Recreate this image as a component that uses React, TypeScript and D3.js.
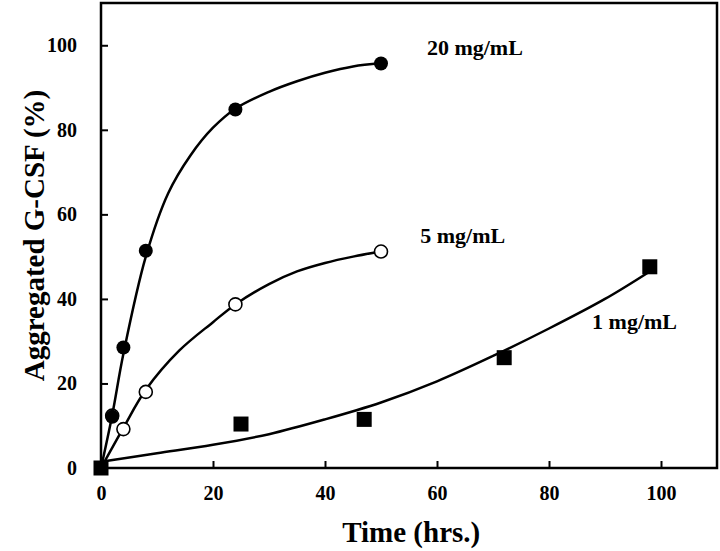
import React, { useEffect, useRef } from 'react';
import * as d3 from 'd3';

// measured points (time in hrs, % aggregated)
const time20 = [0, 2, 4, 8, 24, 50];
const agg20 = [0, 12.1, 28.5, 51.4, 84.8, 95.7];

const time5 = [2, 4, 8, 24, 50];
const agg5 = [12.4, 9.2, 18, 38.7, 51.2];

const time1 = [0, 25, 47, 72, 98];
const agg1 = [0, 10.4, 11.5, 26.1, 47.6];

// fitted curves
const fitTime20 = [0, 2, 4, 8, 12, 16, 20, 24, 30, 35, 40, 45, 50];
const fitAgg20 = [0, 12.5, 27, 50, 65, 74, 80.5, 85, 89, 91.5, 93.5, 95, 95.8];

const fitTime5 = [0, 4, 8, 14, 20, 24, 30, 35, 40, 45, 50];
const fitAgg5 = [0, 9.5, 18.5, 27.8, 34.5, 38.7, 43.5, 46.5, 48.5, 50, 51.2];

const fitTime1 = [0, 10, 20, 30, 40, 50, 60, 70, 80, 90, 98];
const fitAgg1 = [1.5, 3.5, 5.5, 8, 11.5, 15.5, 20.5, 26.5, 33, 40, 46.5];

const xTicks = [0, 20, 40, 60, 80, 100];
const yTicks = [0, 20, 40, 60, 80, 100];

const labels = [
  { text: '20 mg/mL', x: 58.2, y: 97.7 },
  { text: '5 mg/mL', x: 57, y: 53.2 },
  { text: '1 mg/mL', x: 87.7, y: 32.9 },
];

const App = () => {
  const ref = useRef<SVGSVGElement>(null);

  useEffect(() => {
    if (!ref.current) return;
    const svg = d3.select(ref.current);
    svg.selectAll('*').remove();

    const margin = { top: 3, right: 3, bottom: 83, left: 101 };
    const width = 720 - margin.left - margin.right;
    const height = 551 - margin.top - margin.bottom;
    const font = '"Liberation Serif", "Times New Roman", serif';

    const x = d3.scaleLinear().domain([0, 110]).range([0, width]);
    const y = d3.scaleLinear().domain([0, 110]).range([height, 0]);

    const g = svg.append('g').attr('transform', `translate(${margin.left},${margin.top})`);

    // frame
    g.append('rect')
      .attr('width', width)
      .attr('height', height)
      .attr('fill', 'none')
      .attr('stroke', '#000')
      .attr('stroke-width', 2.5);

    // bottom axis, ticks inside
    const xAxis = g
      .append('g')
      .attr('transform', `translate(0,${height})`)
      .call(d3.axisBottom(x).tickValues(xTicks).tickSize(-7).tickPadding(18));
    xAxis.select('.domain').remove();
    xAxis.selectAll('line').attr('stroke-width', 2);
    xAxis
      .selectAll('text')
      .style('font-family', font)
      .style('font-size', '20px')
      .style('font-weight', 'bold');

    // left axis, ticks inside
    const yAxis = g.append('g').call(d3.axisLeft(y).tickValues(yTicks).tickSize(-7).tickPadding(24));
    yAxis.select('.domain').remove();
    yAxis.selectAll('line').attr('stroke-width', 2);
    yAxis
      .selectAll('text')
      .style('font-family', font)
      .style('font-size', '20px')
      .style('font-weight', 'bold');

    // axis titles
    g.append('text')
      .attr('x', x(55.4))
      .attr('y', height + 74)
      .attr('text-anchor', 'middle')
      .style('font-family', font)
      .style('font-size', '29px')
      .style('font-weight', 'bold')
      .text('Time (hrs.)');

    g.append('text')
      .attr('transform', `translate(${-57},${y(55)}) rotate(-90)`)
      .attr('text-anchor', 'middle')
      .style('font-family', font)
      .style('font-size', '29px')
      .style('font-weight', 'bold')
      .text('Aggregated G-CSF (%)');

    // fitted curves
    const line = d3
      .line<number[]>()
      .x(d => d[0])
      .y(d => d[1])
      .curve(d3.curveCatmullRom.alpha(0.5));

    const fits = [
      [fitTime20, fitAgg20],
      [fitTime5, fitAgg5],
      [fitTime1, fitAgg1],
    ];
    fits.forEach(([ts, vs]) => {
      const pts = ts.map((t, i) => [x(t), y(vs[i])]);
      g.append('path')
        .attr('d', line(pts))
        .attr('fill', 'none')
        .attr('stroke', '#000')
        .attr('stroke-width', 2.5);
    });

    // 5 mg/mL open circles
    g.selectAll('circle.open')
      .data(time5.map((t, i) => [t, agg5[i]]))
      .enter()
      .append('circle')
      .attr('class', 'open')
      .attr('cx', d => x(d[0]))
      .attr('cy', d => y(d[1]))
      .attr('r', 6.5)
      .attr('fill', '#fff')
      .attr('stroke', '#000')
      .attr('stroke-width', 1.6);

    // 20 mg/mL filled circles
    g.selectAll('circle.filled')
      .data(time20.map((t, i) => [t, agg20[i]]))
      .enter()
      .append('circle')
      .attr('class', 'filled')
      .attr('cx', d => x(d[0]))
      .attr('cy', d => y(d[1]))
      .attr('r', 7)
      .attr('fill', '#000');

    // 1 mg/mL squares
    g.selectAll('rect.sq')
      .data(time1.map((t, i) => [t, agg1[i]]))
      .enter()
      .append('rect')
      .attr('class', 'sq')
      .attr('x', d => x(d[0]) - 7.5)
      .attr('y', d => y(d[1]) - 7.5)
      .attr('width', 15)
      .attr('height', 15)
      .attr('fill', '#000');

    // series labels
    g.selectAll('text.lbl')
      .data(labels)
      .enter()
      .append('text')
      .attr('class', 'lbl')
      .attr('x', d => x(d.x))
      .attr('y', d => y(d.y))
      .attr('text-anchor', 'start')
      .style('font-family', font)
      .style('font-size', '22px')
      .style('font-weight', 'bold')
      .text(d => d.text);
  }, []);

  return (
    <svg
      ref={ref}
      width={720}
      height={551}
      style={{ position: 'absolute', left: 0, top: 0, background: '#fff' }}
    />
  );
};

export default App;
